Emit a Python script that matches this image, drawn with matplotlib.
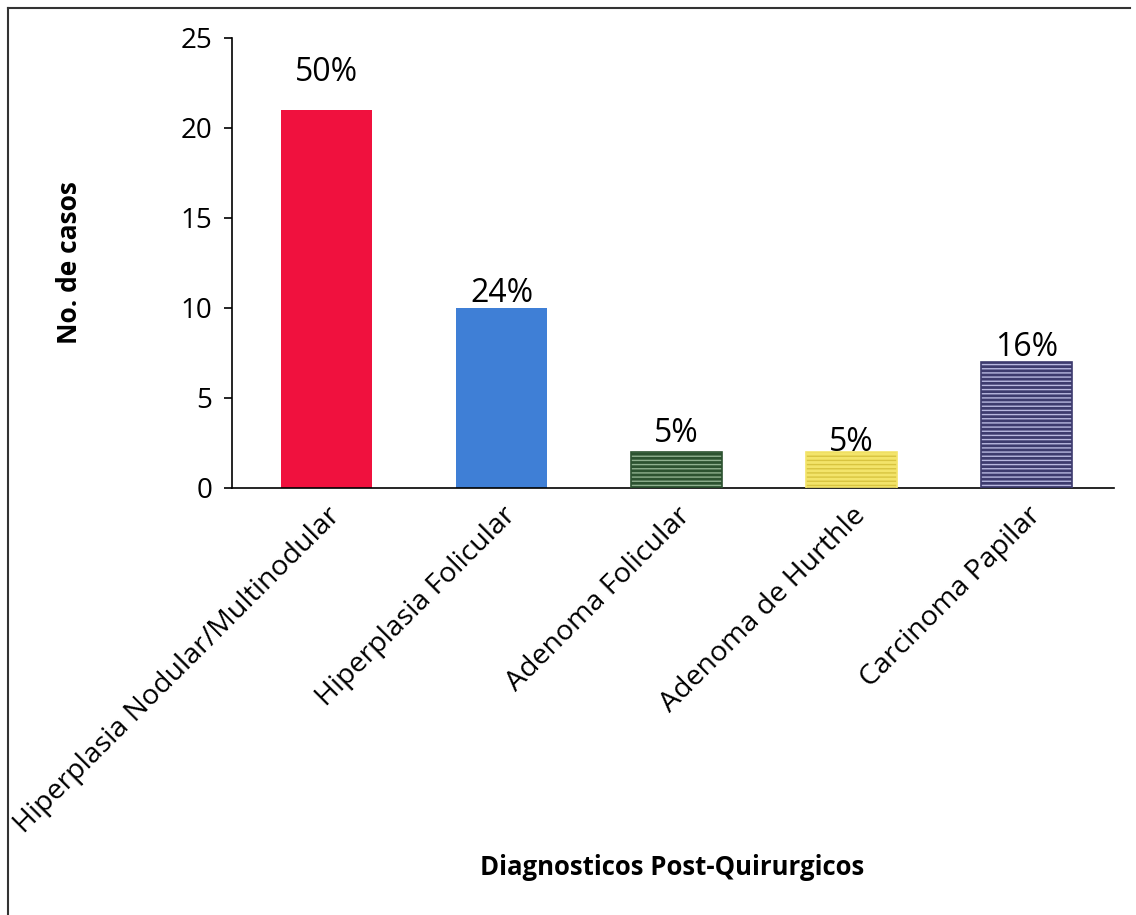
import matplotlib
import matplotlib.pyplot as plt
from matplotlib.lines import Line2D

matplotlib.use("Agg")
plt.rcParams["font.family"] = ["Open Sans", "DejaVu Sans"]

categories = [
    "Hiperplasia Nodular/Multinodular",
    "Hiperplasia Folicular",
    "Adenoma Folicular",
    "Adenoma de Hurthle",
    "Carcinoma Papilar",
]
casos = [21, 10, 2, 2, 7]
porcentajes = ["50%", "24%", "5%", "5%", "16%"]

face_colors = ["#f0113e", "#3f7fd6", "#2c5230", "#f3e46a", "#3d3b6e"]
stripe_colors = [None, None, "#8fb08f", "#d8c440", "#b8b8e0"]
label_offsets = [21, 4.5, 7, 0.5, 4.5]  # points above bar top

fig = plt.figure(figsize=(11.36, 9.15), dpi=100)
ax = fig.add_axes([0.204, 0.4667, 0.777, 0.4918])

x = list(range(len(categories)))
for i, (val, fc, sc) in enumerate(zip(casos, face_colors, stripe_colors)):
    ax.bar(i, val, width=0.52, color=fc, edgecolor="none", zorder=2)
    if sc is not None:
        ax.bar(i, val, width=0.52, color="none", edgecolor=sc, hatch="----",
               linewidth=0, zorder=3)
        ax.bar(i, val, width=0.52, color="none", edgecolor=fc, linewidth=1.2, zorder=4)
    ax.annotate(porcentajes[i], (i, val), xytext=(0, label_offsets[i]),
                textcoords="offset points", ha="center", va="baseline", fontsize=23)

ax.set_xlim(-0.54, 4.5)
ax.set_ylim(0, 25)
ax.set_yticks([0, 5, 10, 15, 20, 25])
ax.tick_params(axis="y", labelsize=20, length=6, width=1.2, pad=8)
ax.tick_params(axis="x", length=0, pad=10)
ax.set_xticks(x)
ax.set_xticklabels(categories, rotation=45, ha="right", rotation_mode="anchor", fontsize=20.5)
for spine in ["top", "right"]:
    ax.spines[spine].set_visible(False)
ax.spines["left"].set_linewidth(1.2)
ax.spines["bottom"].set_linewidth(1.2)

ax.set_ylabel("No. de casos", fontsize=19, fontweight="bold")
ax.yaxis.set_label_coords(-0.168, 0.5)
fig.text(0.5915, 0.0514, "Diagnosticos Post-Quirurgicos", ha="center", va="center",
         fontsize=18.5, fontweight="bold")

# outer frame (top and left edges visible in the scan)
fig.add_artist(Line2D([0.007, 0.995], [0.991, 0.991], color="#333333", linewidth=1.5,
                      transform=fig.transFigure))
fig.add_artist(Line2D([0.007, 0.007], [0.0, 0.991], color="#333333", linewidth=1.5,
                      transform=fig.transFigure))

fig.savefig("out.png", dpi=100)
